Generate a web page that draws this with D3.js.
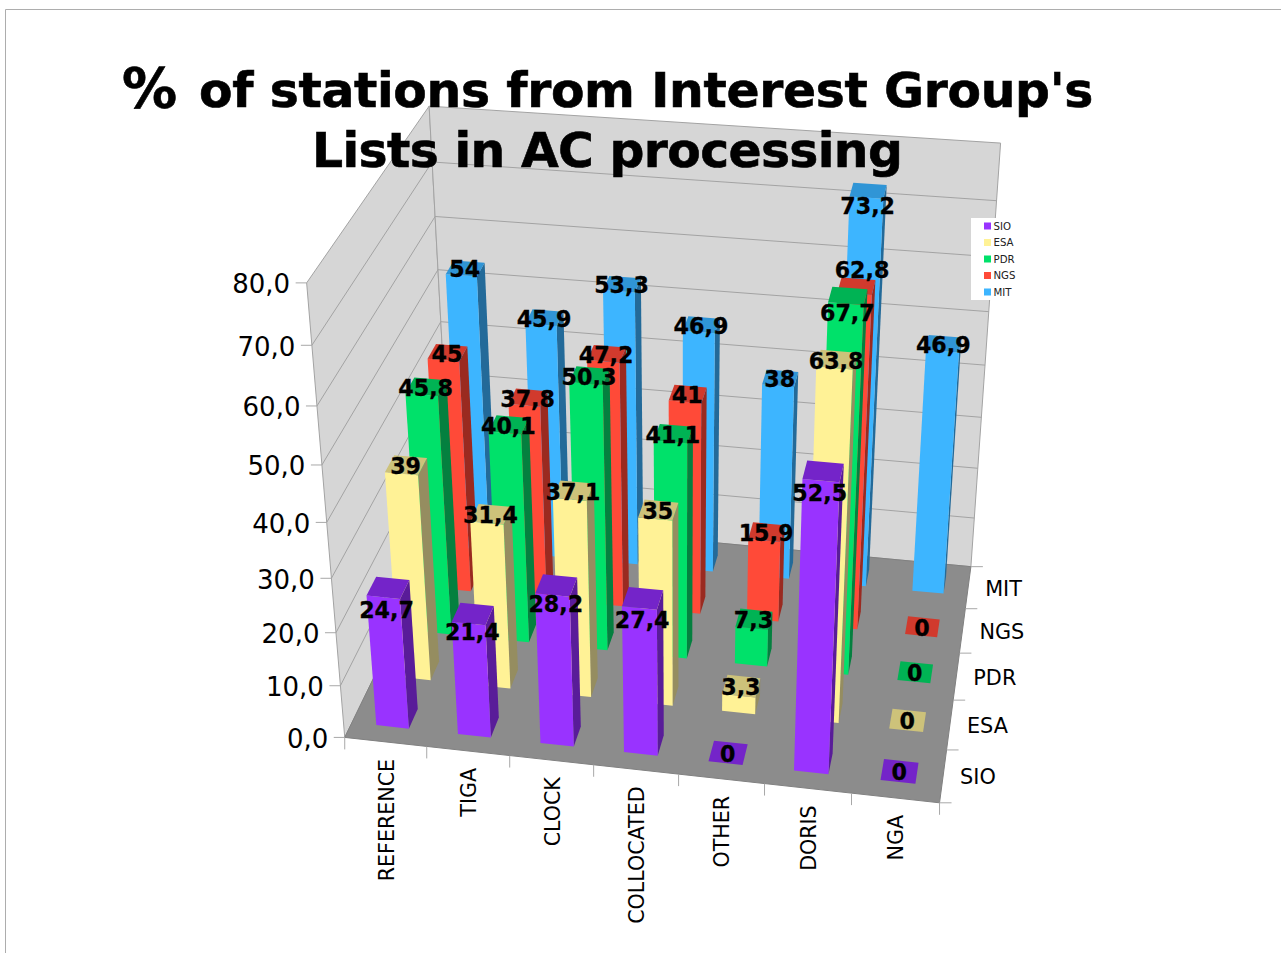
<!DOCTYPE html>
<html><head><meta charset="utf-8">
<style>html,body{margin:0;padding:0;background:#fff;overflow:hidden}svg{display:block}text{font-family:"DejaVu Sans",sans-serif}</style>
<script src="https://cdn.jsdelivr.net/npm/d3@7/dist/d3.min.js"></script>
</head><body><svg id="c" width="1281" height="953"></svg>
<script>
const categories=["REFERENCE","TIGA","CLOCK","COLLOCATED","OTHER","DORIS","NGA"];
const seriesNames=["SIO","ESA","PDR","NGS","MIT"];
const SIO=[24.7,21.4,28.2,27.4,0,52.5,0];
const ESA=[39,31.4,37.1,35,3.3,63.8,0];
const PDR=[45.8,40.1,50.3,41.1,7.3,67.7,0];
const NGS=[45,37.8,47.2,41,15.9,62.8,0];
const MIT=[54,45.9,53.3,46.9,38,73.2,46.9];
const seriesValues=[SIO,ESA,PDR,NGS,MIT];
const yTicks=[0,10,20,30,40,50,60,70,80];
const titleLines=["% of stations from Interest Group's","Lists in AC processing"];
const front=["#9933ff","#fff296","#00e16a","#ff4a38","#3db5ff"];
const topc=["#7424c9","#cdc27a","#00b354","#d13a2d","#3095d6"];
const side=["#591c99","#958d60","#04803f","#9a2a20","#236a99"];
// value labels the original chart moved off their bar tops to avoid collisions: "series|category" → [dx,dy]
const labelShift={"SIO|REFERENCE":[-1,21],"SIO|TIGA":[0,17],"SIO|CLOCK":[0,18],"SIO|COLLOCATED":[0,21],"SIO|DORIS":[-3,21],
 "PDR|DORIS":[0,16],"NGS|DORIS":[6,-17],"MIT|DORIS":[0,14]};

// camera: world (category, value, series) → screen, calibrated on the box corners
const calib=[[[0,0,0],[344.5,738.5]],[[7,0,0],[939,802.5]],[[7,0,5],[971,567]],[[0,0,5],[452,517]],
 [[0,80,0],[307.5,282]],[[7,80,5],[1001,143]],[[0,80,5],[428,107]]];
function solve(A,b){const n=b.length,M=A.map((r,i)=>[...r,b[i]]);
 for(let i=0;i<n;i++){let p=i;for(let r=i+1;r<n;r++)if(Math.abs(M[r][i])>Math.abs(M[p][i]))p=r;[M[i],M[p]]=[M[p],M[i]];
  for(let r=0;r<n;r++){if(r===i)continue;const f=M[r][i]/M[i][i];for(let c=i;c<=n;c++)M[r][c]-=f*M[i][c];}}
 return M.map((r,i)=>r[n]/r[i]);}
const rows=[],rhs=[];
calib.forEach(([[X,Y,Z],[u,v]])=>{const y=Y/80;
 rows.push([X,y,Z,1,0,0,0,0,-u*X,-u*y,-u*Z]);rhs.push(u);
 rows.push([0,0,0,0,X,y,Z,1,-v*X,-v*y,-v*Z]);rhs.push(v);});
const AtA=d3.range(11).map(i=>d3.range(11).map(j=>d3.sum(rows,r=>r[i]*r[j])));
const Atb=d3.range(11).map(i=>d3.sum(rows,(r,k)=>r[i]*rhs[k]));
const m=solve(AtA,Atb);
function project(X,V,Z){const y=V/80,w=m[8]*X+m[9]*y+m[10]*Z+1;
 return [(m[0]*X+m[1]*y+m[2]*Z+m[3])/w,(m[4]*X+m[5]*y+m[6]*Z+m[7])/w];}

const xBand=d3.scaleBand().domain(categories).range([0,7]).paddingInner(.6).paddingOuter(.3);
const zBand=d3.scaleBand().domain(seriesNames).range([0,5]).paddingInner(.6).paddingOuter(.3);
const svg=d3.select("#c");
const poly=d3.line().curve(d3.curveLinearClosed);
const seg=d3.line();

// slide frame
svg.append("path").attr("d",seg([[5.5,953],[5.5,9.5],[1281,9.5]])).attr("fill","none").attr("stroke","#adadad").attr("stroke-width",1);

// walls and floor
const wall="#d6d6d6",edge="#a3a3a3";
const g=svg.append("g");
g.append("path").attr("d",poly([project(0,0,0),project(0,80,0),project(0,80,5),project(0,0,5)])).attr("fill",wall).attr("stroke",edge);
g.append("path").attr("d",poly([project(0,0,5),project(0,80,5),project(7,80,5),project(7,0,5)])).attr("fill",wall).attr("stroke",edge);
g.selectAll("path.grid").data(yTicks.filter(t=>t>0&&t<80)).join("path").attr("class","grid")
 .attr("d",t=>seg([project(0,t,0),project(0,t,5),project(7,t,5)])).attr("fill","none").attr("stroke",edge).attr("stroke-width",1);
g.append("path").attr("d",poly([project(0,0,0),project(7,0,0),project(7,0,5),project(0,0,5)])).attr("fill","#8c8c8c").attr("stroke","#808080");

// ticks
const tickC="#a8a8a8";
g.selectAll("path.yt").data(yTicks).join("path").attr("class","yt").attr("d",t=>{const p=project(0,t,0);return seg([p,[p[0]-11,p[1]]]);}).attr("stroke",tickC);
g.selectAll("path.xt").data(d3.range(8)).join("path").attr("class","xt").attr("d",i=>{const p=project(i,0,0);return seg([p,[p[0],p[1]+12]]);}).attr("stroke",tickC);
g.selectAll("path.zt").data(d3.range(6)).join("path").attr("class","zt").attr("d",i=>{const p=project(7,0,i);return seg([p,[p[0]+12,p[1]]]);}).attr("stroke",tickC);

// axis labels
svg.selectAll("text.yl").data(yTicks).join("text").attr("class","yl").attr("text-anchor","end").attr("font-size",26).attr("fill","#000")
 .attr("x",t=>project(0,t,0)[0]-16.5).attr("y",t=>project(0,t,0)[1]+10.5).text(t=>d3.format(".1f")(t).replace(".",","));
svg.selectAll("text.xl").data(categories).join("text").attr("class","xl").attr("font-size",20.6).attr("text-anchor","end").attr("fill","#000")
 .attr("transform",c=>{const p=project(xBand(c)+xBand.bandwidth()/2,0,0);return `translate(${p[0]+8},${p[1]+17}) rotate(-90)`;}).text(c=>c);
svg.selectAll("text.zl").data(seriesNames).join("text").attr("class","zl").attr("font-size",20.8).attr("fill","#000")
 .attr("x",s=>project(7,0,zBand(s)+zBand.bandwidth()/2)[0]+17).attr("y",s=>project(7,0,zBand(s)+zBand.bandwidth()/2)[1]+8.5).text(s=>s);

// bars, back to front
const bars=[];
d3.range(4,-1,-1).forEach(si=>categories.forEach((c,ci)=>bars.push({si,c,ci,v:seriesValues[si][ci],s:seriesNames[si]})));
const bg=svg.selectAll("g.bar").data(bars).join("g").attr("class","bar");
function corners(d){const x0=xBand(d.c),x1=x0+xBand.bandwidth(),z0=zBand(d.s),z1=z0+zBand.bandwidth();return {x0,x1,z0,z1};}
bg.filter(d=>d.v>0).append("path").attr("fill",d=>side[d.si]).attr("d",d=>{const k=corners(d);
 return poly([project(k.x1,0,k.z0),project(k.x1,0,k.z1),project(k.x1,d.v,k.z1),project(k.x1,d.v,k.z0)]);});
bg.filter(d=>d.v>0).append("path").attr("fill",d=>front[d.si]).attr("d",d=>{const k=corners(d);
 return poly([project(k.x0,0,k.z0),project(k.x1,0,k.z0),project(k.x1,d.v,k.z0),project(k.x0,d.v,k.z0)]);});
bg.append("path").attr("fill",d=>topc[d.si]).attr("d",d=>{const k=corners(d);
 return poly([project(k.x0,d.v,k.z0),project(k.x1,d.v,k.z0),project(k.x1,d.v,k.z1),project(k.x0,d.v,k.z1)]);});

// value labels
const labelAnchors=bars.map(d=>{const k=corners(d);const p=project((k.x0+k.x1)/2,d.v,(k.z0+k.z1)/2);
 const sh=labelShift[d.s+"|"+d.c]||[0,0];return {...d,p:[p[0]+sh[0],p[1]+sh[1]]};});
svg.selectAll("text.vl").data(labelAnchors).join("text").attr("class","vl").attr("font-size",22.2).attr("font-weight","bold").attr("text-anchor","middle").attr("fill","#000")
 .attr("stroke","#000").attr("stroke-width",.3)
 .attr("x",d=>d.p[0]-.5).attr("y",d=>d.p[1]+9).text(d=>String(d.v).replace(".",","));

// title: the first glyph of line one is wider in the original face
const ti=svg.append("g").attr("font-size",48.8).attr("font-weight","bold").attr("fill","#000").attr("stroke","#000").attr("stroke-width",.6);
const t1=ti.append("text").attr("y",107);
t1.append("tspan").attr("x",122).attr("font-size",55).text(titleLines[0].slice(0,1));
t1.append("tspan").attr("x",199).attr("letter-spacing",-.34).text(titleLines[0].slice(2));
ti.append("text").attr("x",312).attr("y",167).attr("letter-spacing",-.64).text(titleLines[1]);

// legend
const leg=svg.append("g");
leg.append("rect").attr("x",971).attr("y",218).attr("width",44).attr("height",82).attr("fill","#fff");
const ly=d3.scalePoint().domain(seriesNames).range([226,292]);
leg.selectAll("rect.k").data(seriesNames).join("rect").attr("class","k").attr("x",984).attr("y",s=>ly(s)-3.5).attr("width",7).attr("height",7).attr("fill",(s,i)=>front[i]);
leg.selectAll("text").data(seriesNames).join("text").attr("x",993.5).attr("y",s=>ly(s)+3.5).attr("font-size",10.2).attr("fill","#222").text(s=>s);
</script></body></html>
